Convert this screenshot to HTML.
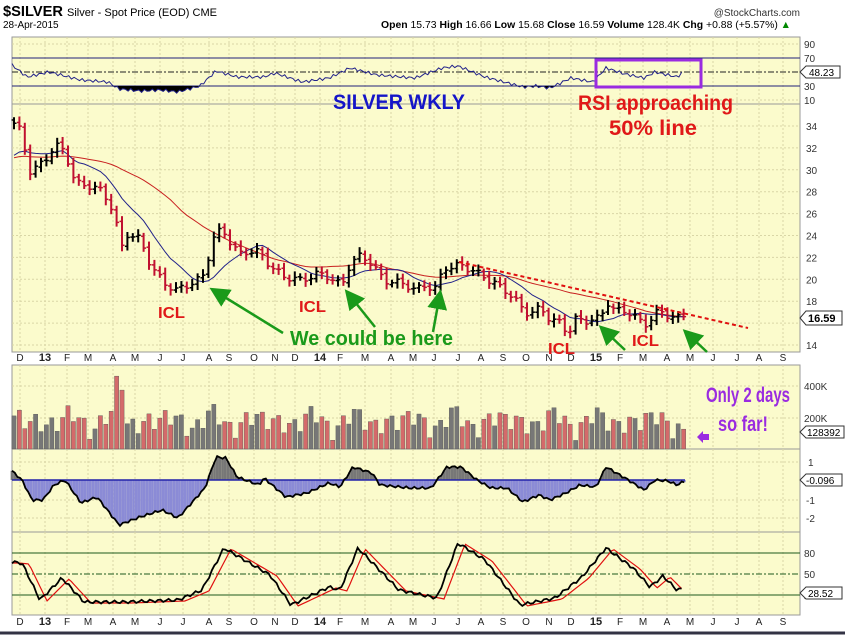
<!DOCTYPE html>
<html><head><meta charset="utf-8">
<style>
html,body{margin:0;padding:0;background:#fff;}
svg{display:block;font-family:"Liberation Sans",Arial,sans-serif;}
.n{font-family:"Liberation Sans Narrow","Liberation Sans",sans-serif;font-weight:bold;}
</style></head>
<body>
<svg id="c" width="845" height="635" viewBox="0 0 845 635" xmlns="http://www.w3.org/2000/svg">
<rect x="0" y="0" width="845" height="635" fill="#fff"/>
<rect x="12" y="37" width="788" height="67" fill="#fbfbcc" stroke="#999" stroke-width="1"/>
<rect x="12" y="104" width="788" height="248" fill="#fbfbcc" stroke="#999" stroke-width="1"/>
<rect x="12" y="365" width="788" height="84" fill="#fbfbcc" stroke="#999" stroke-width="1"/>
<rect x="12" y="449" width="788" height="83" fill="#fbfbcc" stroke="#999" stroke-width="1"/>
<rect x="12" y="532" width="788" height="83" fill="#fbfbcc" stroke="#999" stroke-width="1"/>
<g id="grid"></g>
<text x="3" y="16" font-size="15" font-weight="bold" fill="#000" textLength="60" lengthAdjust="spacingAndGlyphs">$SILVER</text>
<text x="67" y="16" font-size="11" fill="#000" textLength="150" lengthAdjust="spacingAndGlyphs">Silver - Spot Price (EOD) CME</text>
<text x="3" y="28" font-size="10" fill="#000">28-Apr-2015</text>
<text x="800" y="16" font-size="10" fill="#333" text-anchor="end">@StockCharts.com</text>
<text x="381" y="28" font-size="10.5" fill="#000" textLength="410" lengthAdjust="spacingAndGlyphs"><tspan font-weight="bold">Open</tspan> 15.73 <tspan font-weight="bold">High</tspan> 16.66 <tspan font-weight="bold">Low</tspan> 15.68 <tspan font-weight="bold">Close</tspan> 16.59 <tspan font-weight="bold">Volume</tspan> 128.4K <tspan font-weight="bold">Chg</tspan> +0.88 (+5.57%) <tspan fill="#080">▲</tspan></text>
<line x1="12" y1="58" x2="800" y2="58" stroke="#22227a" stroke-width="1"/>
<line x1="12" y1="86" x2="800" y2="86" stroke="#22227a" stroke-width="1"/>
<line x1="12" y1="72" x2="800" y2="72" stroke="#222" stroke-width="1" stroke-dasharray="6,2,2,2"/>
<g font-size="10" fill="#333">
<text x="804" y="48">90</text><text x="804" y="62">70</text><text x="804" y="90">30</text><text x="804" y="104">10</text>
</g>
<path d="M800 72 L806 66 L840 66 L840 78 L806 78 Z" fill="#fff" stroke="#333"/>
<text x="809" y="76" font-size="10">48.23</text>
<g id="rsi"></g>
<g font-size="10" fill="#333" id="pax"></g>
<g id="ma"></g>
<g id="bars"></g>
<line x1="459" y1="262" x2="748" y2="328" stroke="#e01010" stroke-width="2" stroke-dasharray="4,3"/>
<path d="M800 318 L806 311 L842 311 L842 325 L806 325 Z" fill="#fff" stroke="#333"/>
<text x="808" y="322" font-size="11" font-weight="bold">16.59</text>
<text x="333" y="109" font-size="21" font-weight="bold" fill="#1515c8" textLength="132" lengthAdjust="spacingAndGlyphs">SILVER WKLY</text>
<text x="578" y="110" font-size="21" font-weight="bold" fill="#e01818" textLength="155" lengthAdjust="spacingAndGlyphs">RSI approaching</text>
<text x="609" y="135" font-size="21" font-weight="bold" fill="#e01818" textLength="88" lengthAdjust="spacingAndGlyphs">50% line</text>
<rect x="596" y="60" width="105" height="27" fill="none" stroke="#9a2be0" stroke-width="3"/>
<g font-size="16" font-weight="bold" fill="#e01818">
<text x="158" y="318" textLength="27" lengthAdjust="spacingAndGlyphs">ICL</text><text x="299" y="312" textLength="27" lengthAdjust="spacingAndGlyphs">ICL</text><text x="548" y="354" textLength="27" lengthAdjust="spacingAndGlyphs">ICL</text><text x="632" y="346" textLength="27" lengthAdjust="spacingAndGlyphs">ICL</text>
</g>
<text x="290" y="345" font-size="20" font-weight="bold" fill="#1a9a1a" textLength="163" lengthAdjust="spacingAndGlyphs">We could be here</text>
<defs><marker id="ah" markerWidth="8" markerHeight="8" refX="4" refY="4" orient="auto"><path d="M0 0 L8 4 L0 8 Z" fill="#1a9a1a"/></marker></defs>
<g stroke="#1a9a1a" stroke-width="2.5" marker-end="url(#ah)">
<line x1="283" y1="333" x2="218" y2="293"/>
<line x1="375" y1="327" x2="351" y2="297"/>
<line x1="433" y1="332" x2="439" y2="299"/>
<line x1="625" y1="350" x2="606" y2="332"/>
<line x1="707" y1="352" x2="690" y2="336"/>
</g>
<g font-size="10" fill="#222" id="dax"></g>
<g id="vol"></g>
<g font-size="10" fill="#333"><text x="804" y="390">400K</text><text x="804" y="422">200K</text></g>
<path d="M800 432 L806 426 L844 426 L844 438 L806 438 Z" fill="#fff" stroke="#333"/>
<text x="807" y="436" font-size="10">128392</text>
<text x="706" y="402" font-size="21" font-weight="bold" fill="#9a2be0" textLength="84" lengthAdjust="spacingAndGlyphs">Only 2 days</text>
<text x="718" y="431" font-size="21" font-weight="bold" fill="#9a2be0" textLength="50" lengthAdjust="spacingAndGlyphs">so far!</text>
<path d="M697 437 L703 431 L703 434 L709 434 L709 440 L703 440 L703 443 Z" fill="#9a2be0"/>
<g id="macd"></g>
<g font-size="10" fill="#333"><text x="808" y="466">1</text><text x="806" y="504">-1</text><text x="806" y="522">-2</text></g>
<path d="M800 480 L806 474 L842 474 L842 486 L806 486 Z" fill="#fff" stroke="#333"/>
<text x="806" y="484" font-size="10">-0.096</text>
<line x1="12" y1="553" x2="800" y2="553" stroke="#1c5a1c" stroke-width="1"/>
<line x1="12" y1="595" x2="800" y2="595" stroke="#1c5a1c" stroke-width="1"/>
<line x1="12" y1="574" x2="800" y2="574" stroke="#1c5a1c" stroke-width="1" stroke-dasharray="6,2,2,2"/>
<g id="sto"></g>
<g font-size="10" fill="#333"><text x="804" y="557">80</text><text x="804" y="578">50</text><text x="804" y="599">20</text></g>
<path d="M800 593 L806 587 L842 587 L842 599 L806 599 Z" fill="#fff" stroke="#333"/>
<text x="808" y="597" font-size="10">28.52</text>
<line x1="0" y1="633" x2="845" y2="633" stroke="#334" stroke-width="3"/>
</svg>
<script>
(function(){
var NS="http://www.w3.org/2000/svg";
function el(p,t,a){var e=document.createElementNS(NS,t);for(var k in a)e.setAttribute(k,a[k]);document.getElementById(p).appendChild(e);return e;}
var months=[["D",20],["13",45],["F",67],["M",88],["A",113],["M",135],["J",160],["J",183],["A",209],["S",229],["O",254],["N",275],["D",295],["14",320],["F",340],["M",365],["A",391],["M",413],["J",434],["J",458],["A",481],["S",503],["O",526],["N",549],["D",571],["15",596],["F",620],["M",643],["A",667],["M",690],["J",713],["J",737],["A",759],["S",783]];
months.forEach(function(m){
 [[37,104],[104,352],[365,449],[449,532],[532,615]].forEach(function(r){
  el("grid","line",{x1:m[1],y1:r[0],x2:m[1],y2:r[1],stroke:"#d9d6a6","stroke-dasharray":"2,2"});});
 [361,625].forEach(function(y){var t=el("dax","text",{x:m[1],y:y,"text-anchor":"middle"});t.textContent=m[0];
  if(m[0].length==2){t.setAttribute("font-weight","bold");t.setAttribute("font-size","11");}});
});
function py(p){return 126+(34-p)*10.95;}
for(var p=14;p<=34;p+=2){var y=py(p);
 el("grid","line",{x1:12,y1:y,x2:800,y2:y,stroke:"#d9d6a6","stroke-dasharray":"2,2"});
 if(p!=16){var t=el("pax","text",{x:806,y:y+4});t.textContent=p;}}
[44,58,72,86,100].forEach(function(y){el("grid","line",{x1:12,y1:y,x2:800,y2:y,stroke:"#d9d6a6","stroke-dasharray":"2,2"});});
[386,418,462,500,518].forEach(function(y){el("grid","line",{x1:12,y1:y,x2:800,y2:y,stroke:"#d9d6a6","stroke-dasharray":"2,2"});});
function mk(K){return function(x){if(x<=K[0][0])return K[0][1];for(var i=0;i<K.length-1;i++){if(x<=K[i+1][0]){var f=(x-K[i][0])/(K[i+1][0]-K[i][0]);return K[i][1]+f*(K[i+1][1]-K[i][1]);}}return K[K.length-1][1];};}
var ip=mk([[12,34.5],[20,33.5],[30,29.8],[45,31],[55,32.2],[65,31.5],[75,29],[90,28.5],[100,28],[110,27],[117,25],[120,22.3],[125,24.2],[140,23.5],[150,21.5],[165,19.6],[175,18.8],[190,19.7],[205,20.4],[212,23.5],[222,24.6],[230,23.6],[240,22.3],[260,22.5],[270,21.4],[285,20],[300,20],[315,20.5],[325,20.2],[342,19.6],[350,21.5],[360,22],[372,21.4],[385,20],[400,19.5],[415,19.2],[425,19.5],[435,19],[445,21],[460,21.5],[470,20.8],[480,20.3],[495,19.8],[510,18.5],[525,17],[540,17.4],[550,16.2],[560,16],[568,15.2],[575,16.5],[585,16],[600,16.5],[608,18],[615,17.2],[630,16.8],[645,16],[658,17],[670,16.5],[683,16.6]]);
var N=125,X=[],C=[],H=[],L=[],O=[];
for(var i=0;i<N;i++){var x=14+i*5.4;X.push(x);var c=ip(x)+0.3*Math.sin(i*1.7)+0.15*Math.sin(i*0.9);if(i==N-1)c=16.59;C.push(c);}
for(var i=0;i<N;i++){var o=i?C[i-1]+0.1*Math.sin(i*2.3):C[i]+0.3;O.push(o);
 H.push(Math.max(o,C[i])+0.25+0.3*Math.abs(Math.sin(i*1.3)));L.push(Math.min(o,C[i])-0.25-0.3*Math.abs(Math.cos(i*1.1)));}
function sma(n){var r=[];for(var i=0;i<N;i++){var s=0,k=0;for(var j=Math.max(0,i-n+1);j<=i;j++){s+=C[j];k++;}
 if(i<n-1){s+= (n-k)*31; k=n;} r.push(s/k);}return r;}
var m1=sma(10),m2=sma(30);
function pl(arr,f){return arr.map(function(v,i){return X[i].toFixed(1)+","+f(v).toFixed(1);}).join(" ");}
function plx(xs,ys){return xs.map(function(x,i){return x.toFixed(1)+","+ys[i].toFixed(1);}).join(" ");}
el("ma","polyline",{points:pl(m2,py),fill:"none",stroke:"#c82020","stroke-width":1});
el("ma","polyline",{points:pl(m1,py),fill:"none",stroke:"#22228a","stroke-width":1});
for(var i=0;i<N;i++){var col=(i&&C[i]<C[i-1])?"#c01030":"#000";var x=X[i];
 el("bars","line",{x1:x,y1:py(H[i]),x2:x,y2:py(L[i]),stroke:col,"stroke-width":2});
 el("bars","line",{x1:x-2.5,y1:py(O[i]),x2:x,y2:py(O[i]),stroke:col,"stroke-width":1.5});
 el("bars","line",{x1:x,y1:py(C[i]),x2:x+2.5,y2:py(C[i]),stroke:col,"stroke-width":1.5});}
// RSI (y coords directly)
var rf=mk([[12,65],[27,77],[49,72],[81,80],[108,82],[119,89],[140,91],[160,90],[178,92],[200,86],[216,71],[237,77],[264,77],[275,73],[302,82],[329,78],[350,68],[377,75],[415,78],[442,68],[458,66],[485,77],[523,87],[536,86],[550,88],[571,78],[593,82],[606,68],[625,74],[644,78],[655,72],[677,77],[682,73]]);
var RX=[],RY=[];for(var x=12;x<=682;x+=2.7){RX.push(x);RY.push(rf(x)+1.5*Math.sin(x*0.9));}
var fp="12,86 ";RX.forEach(function(x,i){fp+=x.toFixed(1)+","+Math.max(86,RY[i]).toFixed(1)+" ";});fp+="682,86";
el("rsi","polygon",{points:fp,fill:"#000"});
el("rsi","polyline",{points:plx(RX,RY),fill:"none",stroke:"#22228a","stroke-width":1});
// volume
for(var i=0;i<N;i++){var v=180+60*Math.sin(i*2.1)+40*Math.sin(i*0.7+1)+25*Math.sin(i*5.3);
 if(i==19)v=470;if(i==20)v=380;if(i==N-1)v=128;var h=v*0.155;var col=(i&&C[i]<C[i-1])?"#d46a6a":"#777";
 el("vol","rect",{x:X[i]-2.1,y:449-h,width:4.2,height:h,fill:col,stroke:"#555","stroke-width":0.4});}
// MACD (y coords)
var mf=mk([[12,471],[22,480],[32,500],[43,500],[54,485],[65,480],[81,503],[97,497],[119,525],[140,517],[162,510],[178,518],[205,488],[216,457],[226,458],[237,477],[259,485],[264,478],[286,497],[307,493],[329,483],[340,487],[353,467],[372,473],[380,485],[410,488],[431,488],[447,467],[461,467],[477,480],[491,488],[507,488],[523,502],[539,495],[550,500],[566,493],[580,485],[596,487],[606,467],[625,478],[644,490],[655,480],[668,481],[677,485],[685,481]]);
var MX=[],MY=[];for(var x=12;x<=685;x+=2.7){MX.push(x);MY.push(mf(x)+1.2*Math.sin(x*0.8));}
MX.forEach(function(x,i){var y=MY[i];el("macd","line",{x1:x,y1:480,x2:x,y2:y,stroke:y<480?"#777":"#8b8bd6","stroke-width":2.7});});
el("macd","line",{x1:12,y1:480,x2:685,y2:480,stroke:"#2222aa","stroke-width":1.5});
el("macd","polyline",{points:plx(MX,MY),fill:"none",stroke:"#000","stroke-width":1.8});
// Stoch
var kf=mk([[12,562],[22,563],[40,600],[62,578],[84,602],[124,602],[178,600],[202,590],[224,548],[270,575],[291,605],[329,587],[340,590],[358,548],[399,590],[437,598],[458,543],[485,560],[520,605],[555,598],[582,577],[606,548],[633,568],[650,587],[663,576],[677,590],[682,589]]);
var SX=[],SK=[],SD=[];for(var x=12;x<=682;x+=2.7){SX.push(x);SK.push(kf(x)+1.5*Math.sin(x*0.7));SD.push(kf(x-7)+1);}
el("sto","polyline",{points:plx(SX,SD),fill:"none",stroke:"#e01010","stroke-width":1.2});
el("sto","polyline",{points:plx(SX,SK),fill:"none",stroke:"#000","stroke-width":1.8});
})();
</script>
</body></html>
